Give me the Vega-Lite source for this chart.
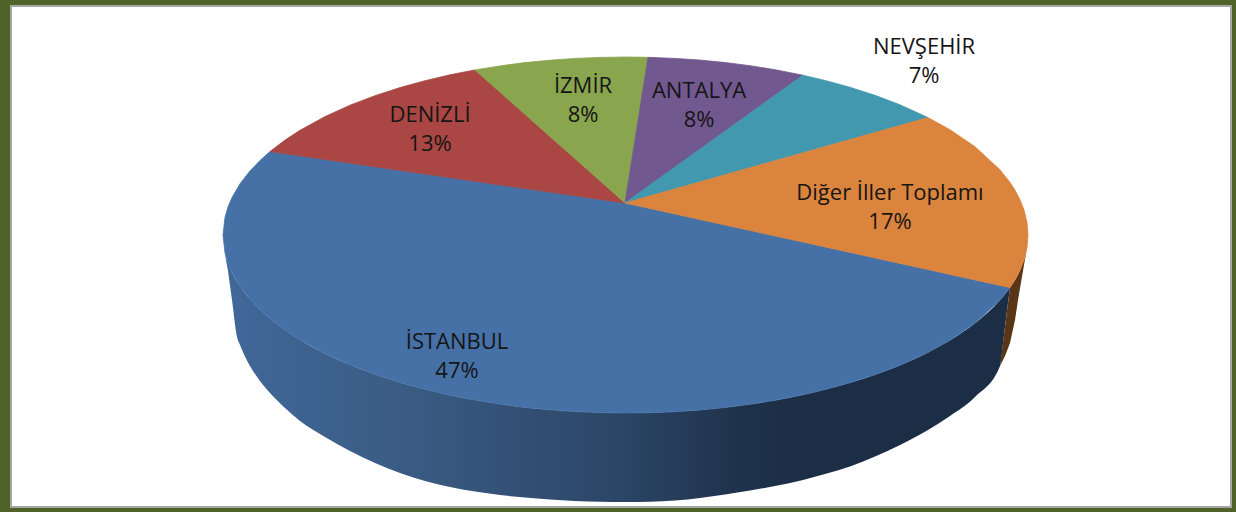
{"$schema":"https://vega.github.io/schema/vega-lite/v6.json","width":1236,"height":512,"padding":0,"autosize":{"type":"fit","contains":"padding"},"background":"#4F6228","config":{"view":{"stroke":null}},
"datasets":{
"frame":[{"x":11,"x2":1231,"y":6,"y2":507}],
"wall":[
{"x":223,"y":235,"y2":235},{"x":225,"y":252.7,"y2":254},{"x":228,"y":263,"y2":271},{"x":230,"y":268,"y2":285.6},{"x":232,"y":272.4,"y2":300},{"x":237,"y":281.5,"y2":337},{"x":240,"y":286.2,"y2":345},{"x":250,"y":299.1,"y2":366},{"x":260,"y":309.5,"y2":381},{"x":270,"y":318.5,"y2":393},{"x":285,"y":329.9,"y2":408},{"x":300,"y":339.7,"y2":421},{"x":325,"y":353.4,"y2":437},{"x":350,"y":364.8,"y2":451},{"x":375,"y":374.3,"y2":463},{"x":400,"y":382.4,"y2":473},{"x":425,"y":389.3,"y2":481},{"x":450,"y":395.2,"y2":487},{"x":475,"y":400.1,"y2":491.5},{"x":500,"y":404.1,"y2":495},{"x":525,"y":407.4,"y2":497.5},{"x":550,"y":409.8,"y2":499.5},{"x":575,"y":411.6,"y2":501},{"x":600,"y":412.6,"y2":501.7},{"x":625,"y":413,"y2":502},{"x":650,"y":412.7,"y2":501.7},{"x":675,"y":411.6,"y2":500.5},{"x":700,"y":409.9,"y2":498},{"x":725,"y":407.5,"y2":494.5},{"x":750,"y":404.3,"y2":490.5},{"x":775,"y":400.3,"y2":486},{"x":803,"y":394.8,"y2":480},{"x":825,"y":389.6,"y2":474},{"x":850,"y":382.7,"y2":466.5},{"x":875,"y":374.7,"y2":456.5},{"x":900,"y":365.2,"y2":445},{"x":928,"y":352.4,"y2":430},{"x":950,"y":340.3,"y2":416},{"x":975,"y":323.3,"y2":397},{"x":1000,"y":300.2,"y2":366},{"x":1005,"y":294.3,"y2":326.6},{"x":1010,"y":287.6,"y2":287.6}],
"wallOrange":[
{"x":1000,"y":366,"y2":366},{"x":1005,"y":326.6,"y2":356},{"x":1010,"y":287.6,"y2":343},{"x":1015,"y":279.9,"y2":320},{"x":1018,"y":274.4,"y2":300},{"x":1020,"y":270.3,"y2":288.3},{"x":1024,"y":260,"y2":265},{"x":1027,"y":247.6,"y2":247.6}],
"faces":[
{"s":"İSTANBUL","x":223,"y":235,"y2":235},{"s":"İSTANBUL","x":225,"y":217.3,"y2":252.7},{"s":"İSTANBUL","x":228,"y":207,"y2":263},{"s":"İSTANBUL","x":232,"y":197.6,"y2":272.4},{"s":"İSTANBUL","x":240,"y":183.8,"y2":286.2},{"s":"İSTANBUL","x":250,"y":170.9,"y2":299.1},{"s":"İSTANBUL","x":260,"y":160.5,"y2":309.5},{"s":"İSTANBUL","x":270,"y":151.5,"y2":318.5},{"s":"İSTANBUL","x":285,"y":153.7,"y2":329.9},{"s":"İSTANBUL","x":300,"y":155.8,"y2":339.7},{"s":"İSTANBUL","x":325,"y":159.5,"y2":353.4},{"s":"İSTANBUL","x":350,"y":163.1,"y2":364.8},{"s":"İSTANBUL","x":375,"y":166.7,"y2":374.3},{"s":"İSTANBUL","x":400,"y":170.4,"y2":382.4},{"s":"İSTANBUL","x":425,"y":174,"y2":389.3},{"s":"İSTANBUL","x":450,"y":177.6,"y2":395.2},{"s":"İSTANBUL","x":475,"y":181.3,"y2":400.1},{"s":"İSTANBUL","x":500,"y":184.9,"y2":404.1},{"s":"İSTANBUL","x":525,"y":188.5,"y2":407.4},{"s":"İSTANBUL","x":550,"y":192.1,"y2":409.8},{"s":"İSTANBUL","x":575,"y":195.7,"y2":411.6},{"s":"İSTANBUL","x":600,"y":199.4,"y2":412.6},{"s":"İSTANBUL","x":625,"y":203,"y2":413},{"s":"İSTANBUL","x":650,"y":208.5,"y2":412.7},{"s":"İSTANBUL","x":675,"y":214,"y2":411.6},{"s":"İSTANBUL","x":700,"y":219.5,"y2":409.9},{"s":"İSTANBUL","x":725,"y":225.1,"y2":407.5},{"s":"İSTANBUL","x":750,"y":230.5,"y2":404.3},{"s":"İSTANBUL","x":775,"y":236,"y2":400.3},{"s":"İSTANBUL","x":803,"y":242.1,"y2":394.8},{"s":"İSTANBUL","x":825,"y":246.9,"y2":389.6},{"s":"İSTANBUL","x":850,"y":252.4,"y2":382.7},{"s":"İSTANBUL","x":875,"y":257.9,"y2":374.7},{"s":"İSTANBUL","x":900,"y":263.4,"y2":365.2},{"s":"İSTANBUL","x":928,"y":269.5,"y2":352.4},{"s":"İSTANBUL","x":950,"y":274.4,"y2":340.3},{"s":"İSTANBUL","x":975,"y":279.9,"y2":323.3},{"s":"İSTANBUL","x":1000,"y":285.4,"y2":300.2},{"s":"İSTANBUL","x":1010,"y":287.6,"y2":287.6},
{"s":"DENİZLİ","x":270,"y":151.5,"y2":151.5},{"s":"DENİZLİ","x":285,"y":140.1,"y2":153.7},{"s":"DENİZLİ","x":300,"y":130.3,"y2":155.8},{"s":"DENİZLİ","x":325,"y":116.6,"y2":159.5},{"s":"DENİZLİ","x":350,"y":105.2,"y2":163.1},{"s":"DENİZLİ","x":375,"y":95.7,"y2":166.7},{"s":"DENİZLİ","x":400,"y":87.6,"y2":170.4},{"s":"DENİZLİ","x":425,"y":80.7,"y2":174},{"s":"DENİZLİ","x":450,"y":74.8,"y2":177.6},{"s":"DENİZLİ","x":475,"y":69.9,"y2":181.3},{"s":"DENİZLİ","x":500,"y":92.1,"y2":184.9},{"s":"DENİZLİ","x":525,"y":114.3,"y2":188.5},{"s":"DENİZLİ","x":550,"y":136.5,"y2":192.1},{"s":"DENİZLİ","x":575,"y":158.6,"y2":195.7},{"s":"DENİZLİ","x":600,"y":180.8,"y2":199.4},{"s":"DENİZLİ","x":625,"y":203,"y2":203},
{"s":"İZMİR","x":475,"y":69.9,"y2":69.9},{"s":"İZMİR","x":500,"y":65.9,"y2":92.1},{"s":"İZMİR","x":525,"y":62.6,"y2":114.3},{"s":"İZMİR","x":550,"y":60.2,"y2":136.5},{"s":"İZMİR","x":575,"y":58.4,"y2":158.6},{"s":"İZMİR","x":600,"y":57.4,"y2":180.8},{"s":"İZMİR","x":625,"y":57,"y2":203},{"s":"İZMİR","x":648,"y":57.3,"y2":57.3},
{"s":"ANTALYA","x":625,"y":203,"y2":203},{"s":"ANTALYA","x":648,"y":57.3,"y2":186.5},{"s":"ANTALYA","x":675,"y":58.4,"y2":167.1},{"s":"ANTALYA","x":700,"y":60.1,"y2":149.2},{"s":"ANTALYA","x":725,"y":62.5,"y2":131.2},{"s":"ANTALYA","x":750,"y":65.7,"y2":113.2},{"s":"ANTALYA","x":775,"y":69.7,"y2":95.3},{"s":"ANTALYA","x":803,"y":75.2,"y2":75.2},
{"s":"NEVŞEHİR","x":625,"y":203,"y2":203},{"s":"NEVŞEHİR","x":803,"y":75.2,"y2":152.8},{"s":"NEVŞEHİR","x":825,"y":80.4,"y2":146.6},{"s":"NEVŞEHİR","x":850,"y":87.3,"y2":139.6},{"s":"NEVŞEHİR","x":875,"y":95.3,"y2":132.5},{"s":"NEVŞEHİR","x":900,"y":104.8,"y2":125.5},{"s":"NEVŞEHİR","x":928,"y":117.6,"y2":117.6},
{"s":"Diğer İller Toplamı","x":625,"y":203,"y2":203},{"s":"Diğer İller Toplamı","x":928,"y":117.6,"y2":269.5},{"s":"Diğer İller Toplamı","x":950,"y":129.7,"y2":274.4},{"s":"Diğer İller Toplamı","x":975,"y":146.7,"y2":279.9},{"s":"Diğer İller Toplamı","x":1000,"y":169.8,"y2":285.4},{"s":"Diğer İller Toplamı","x":1010,"y":182.4,"y2":287.6},{"s":"Diğer İller Toplamı","x":1015,"y":190.1,"y2":279.9},{"s":"Diğer İller Toplamı","x":1020,"y":199.7,"y2":270.3},{"s":"Diğer İller Toplamı","x":1024,"y":210,"y2":260},{"s":"Diğer İller Toplamı","x":1027,"y":222.4,"y2":247.6},{"s":"Diğer İller Toplamı","x":1028,"y":235,"y2":235}],
"labels":[
{"label":"İSTANBUL\n47%","x":457,"y":342},{"label":"DENİZLİ\n13%","x":430,"y":115},{"label":"İZMİR\n8%","x":583,"y":86},{"label":"ANTALYA\n8%","x":699,"y":91},{"label":"NEVŞEHİR\n7%","x":924,"y":47},{"label":"Diğer İller Toplamı\n17%","x":890,"y":193}]},
"layer":[
{"data":{"name":"frame"},"mark":{"type":"rect","fill":"#FFFFFF","stroke":"#A6A6A6","strokeWidth":2},"encoding":{"x":{"field":"x","type":"quantitative","scale":{"domain":[0,1236],"nice":false,"zero":false},"axis":null},"x2":{"field":"x2"},"y":{"field":"y","type":"quantitative","scale":{"domain":[512,0],"nice":false,"zero":false},"axis":null},"y2":{"field":"y2"}}},
{"data":{"name":"wall"},"mark":{"type":"area","interpolate":"monotone","color":{"gradient":"linear","x1":0,"y1":0,"x2":1,"y2":0,"stops":[{"offset":0,"color":"#41689A"},{"offset":0.225,"color":"#3A5C84"},{"offset":0.5,"color":"#2C4667"},{"offset":0.67,"color":"#1E314A"},{"offset":0.73,"color":"#1B2E45"},{"offset":1,"color":"#1B2E45"}]}},"encoding":{"x":{"field":"x","type":"quantitative","scale":{"domain":[0,1236],"nice":false,"zero":false},"axis":null},"y":{"field":"y","type":"quantitative","stack":null,"scale":{"domain":[512,0],"nice":false,"zero":false},"axis":null},"y2":{"field":"y2"}}},
{"data":{"name":"wallOrange"},"mark":{"type":"area","color":"#5A3618"},"encoding":{"x":{"field":"x","type":"quantitative","scale":{"domain":[0,1236],"nice":false,"zero":false},"axis":null},"y":{"field":"y","type":"quantitative","stack":null,"scale":{"domain":[512,0],"nice":false,"zero":false},"axis":null},"y2":{"field":"y2"}}},
{"data":{"name":"faces"},"mark":{"type":"area","strokeWidth":0.8},"encoding":{"x":{"field":"x","type":"quantitative","scale":{"domain":[0,1236],"nice":false,"zero":false},"axis":null},"y":{"field":"y","type":"quantitative","stack":null,"scale":{"domain":[512,0],"nice":false,"zero":false},"axis":null},"y2":{"field":"y2"},"color":{"field":"s","type":"nominal","legend":null,"scale":{"domain":["İSTANBUL","DENİZLİ","İZMİR","ANTALYA","NEVŞEHİR","Diğer İller Toplamı"],"range":["#4571A7","#AA4643","#89A54E","#71588F","#4198AF","#DB843D"]}},"stroke":{"field":"s","type":"nominal","legend":null,"scale":{"domain":["İSTANBUL","DENİZLİ","İZMİR","ANTALYA","NEVŞEHİR","Diğer İller Toplamı"],"range":["#4571A7","#AA4643","#89A54E","#71588F","#4198AF","#DB843D"]}}}},
{"data":{"name":"labels"},"mark":{"type":"text","font":"Open Sans","fontSize":22,"color":"#151515","lineBreak":"\n","lineHeight":29,"align":"center","baseline":"middle"},"encoding":{"x":{"field":"x","type":"quantitative","scale":{"domain":[0,1236],"nice":false,"zero":false},"axis":null},"y":{"field":"y","type":"quantitative","scale":{"domain":[512,0],"nice":false,"zero":false},"axis":null},"text":{"field":"label"}}}
]}
